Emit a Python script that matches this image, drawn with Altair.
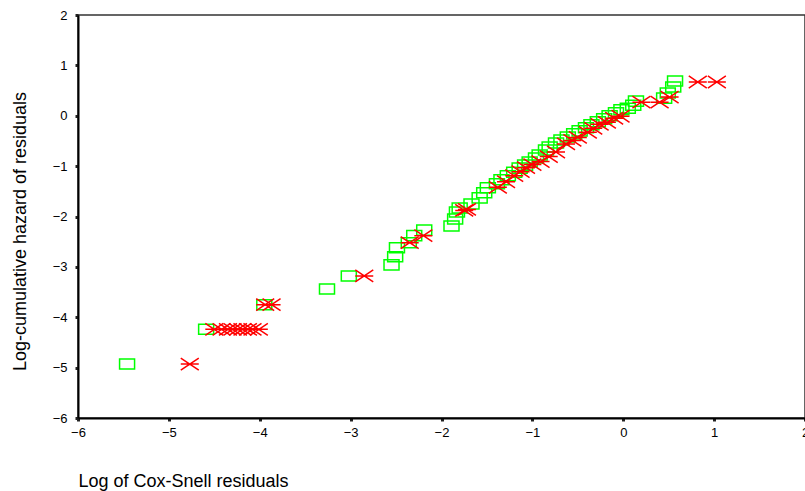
import altair as alt
import pandas as pd

# Green squares
green_x = [-5.46, -4.59, -3.95, -3.26, -3.02, -2.55, -2.51, -2.49, -2.36, -2.30, -2.19,
           -1.89, -1.85, -1.83, -1.80, -1.67, -1.58, -1.53, -1.49, -1.39, -1.34, -1.27,
           -1.20, -1.14, -1.08, -1.03, -0.96, -0.92, -0.85, -0.81, -0.74, -0.68, -0.61,
           -0.54, -0.48, -0.41, -0.35, -0.28, -0.21, -0.15, -0.08, -0.02, 0.05, 0.11,
           0.14, 0.45, 0.49, 0.55, 0.57]
green_y = [-4.93, -4.24, -3.75, -3.44, -3.18, -2.96, -2.80, -2.62, -2.52, -2.38, -2.27,
           -2.19, -2.05, -1.91, -1.83, -1.75, -1.63, -1.53, -1.43, -1.35, -1.27, -1.19,
           -1.12, -1.04, -0.98, -0.92, -0.84, -0.78, -0.68, -0.62, -0.54, -0.48, -0.42,
           -0.36, -0.30, -0.24, -0.18, -0.12, -0.06, 0.00, 0.06, 0.12, 0.15, 0.21,
           0.29, 0.35, 0.45, 0.57, 0.69]

# Red asterisks
red_x = [-4.77, -4.50, -4.42, -4.35, -4.30, -4.24, -4.19, -4.13, -4.08, -4.01,
         -3.94, -3.87, -2.85, -2.35, -2.20, -1.75, -1.72, -1.38, -1.29, -1.20, -1.13,
         -1.07, -1.00, -0.91, -0.82, -0.74, -0.63, -0.56, -0.50, -0.39, -0.33, -0.26,
         -0.18, -0.10, -0.03, 0.20, 0.40, 0.51, 0.82, 1.03]
red_y = [-4.93, -4.24, -4.24, -4.24, -4.24, -4.24, -4.24, -4.24, -4.24, -4.24,
         -3.75, -3.75, -3.18, -2.52, -2.38, -1.88, -1.86, -1.42, -1.31, -1.19, -1.11,
         -1.03, -0.97, -0.91, -0.81, -0.72, -0.56, -0.49, -0.43, -0.33, -0.25, -0.17,
         -0.13, -0.05, -0.01, 0.27, 0.27, 0.37, 0.67, 0.67]

ticks = [-6, -5, -4, -3, -2, -1, 0, 1, 2]

green = pd.DataFrame({"x": green_x, "y": green_y})
red = pd.DataFrame({"x": red_x, "y": red_y})

FONT = "Liberation Sans"

xscale = alt.Scale(domain=[-6, 2], nice=False, zero=False)
yscale = alt.Scale(domain=[-6, 2], nice=False, zero=False)

xaxis = alt.Axis(values=ticks, format="d", grid=False, title="Log of Cox-Snell residuals",
                 domainColor="black", domainWidth=2, tickColor="#222", tickSize=3,
                 tickWidth=3, labelPadding=5, labelFontSize=13, labelFont=FONT,
                 labelColor="black", labelFlush=False,
                 titleFont=FONT, titleFontSize=18, titleFontWeight="normal",
                 titleColor="black", titleAnchor="start", titleAlign="left",
                 titleX=0, titleY=68, titleBaseline="alphabetic")
yaxis = alt.Axis(values=ticks, format="d", grid=False, title="Log-cumulative hazard of residuals",
                 domainColor="black", domainWidth=2, tickColor="#222", tickSize=3,
                 tickWidth=3, labelPadding=8, labelFontSize=13, labelFont=FONT,
                 labelColor="black", labelFlush=False,
                 titleFont=FONT, titleFontSize=18, titleFontWeight="normal",
                 titleColor="black", titleAngle=-90, titleAlign="center",
                 titleX=-53, titleY=216, titleBaseline="alphabetic")

rect_path = "M-1,-0.67H1V0.67H-1Z"
star_path = "M-1,-0.67L1,0.67M-1,0.67L1,-0.67M-1,0H1"

g = alt.Chart(green).mark_point(
    shape=rect_path, filled=False, color="#00ff00", stroke="#00ff00",
    strokeWidth=1.5, size=225, opacity=1
).encode(
    x=alt.X("x:Q", scale=xscale, axis=xaxis),
    y=alt.Y("y:Q", scale=yscale, axis=yaxis),
)

r = alt.Chart(red).mark_point(
    shape=star_path, filled=False, color="#ff0000", stroke="#ff0000",
    strokeWidth=1.5, size=324, opacity=1
).encode(
    x=alt.X("x:Q", scale=xscale),
    y=alt.Y("y:Q", scale=yscale),
)

chart = alt.layer(g, r).properties(
    width=727, height=403,
    padding={"left": 78, "top": 15, "right": 0, "bottom": 73},
    autosize="none", background="white"
).configure_view(stroke="#333", strokeWidth=1.5)

chart.save("out.html", embed_options={"renderer": "svg", "actions": False})
